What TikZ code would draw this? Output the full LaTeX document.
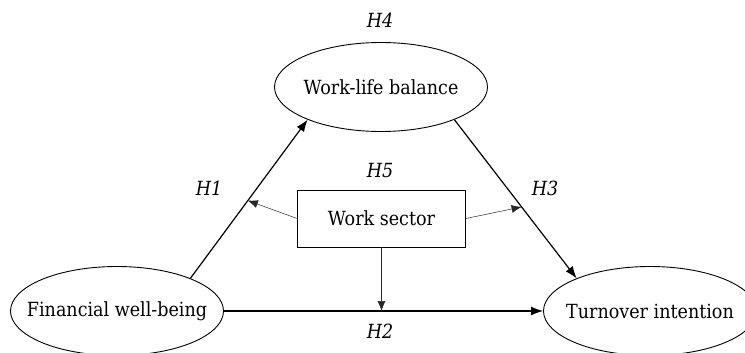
\documentclass[tikz,border=0pt]{standalone}
\usepackage{fontspec}
\setmainfont{DejaVu Serif Condensed}
\usetikzlibrary{shapes.geometric,arrows.meta}
\begin{document}
\begin{tikzpicture}[x=1pt,y=-1pt,
  lbl/.style={font=\fontsize{19.5}{23}\selectfont},
  ell/.style={ellipse,draw,line width=0.9pt,inner sep=0pt,minimum width=213pt,minimum height=89pt,lbl},
  box/.style={rectangle,draw,line width=0.9pt,minimum width=168pt,minimum height=57pt,inner sep=0pt,lbl},
  hyp/.style={font=\fontsize{19.5}{23}\selectfont\itshape},
  main/.style={line width=1.2pt,-{Latex[length=12pt,width=9pt]}},
  mod/.style={line width=0.5pt,draw=black!85,-{Latex[length=10pt,width=8pt]}}]
\useasboundingbox (0,0) rectangle (745,353);
\node[ell] (fin) at (117,311) {\makebox[0pt]{Financial well-being}};
\node[ell] (wlb) at (381,87) {\makebox[0pt]{Work-life balance}};
\node[ell] (tur) at (650,311) {\makebox[0pt]{Turnover intention}};
\node[box] (ws) at (381.5,218.5) {Work sector};
\node[hyp] (h4) at (380,20) {H4};
\node[hyp] (h5) at (380,171) {H5};
\node[hyp] (h1) at (209,188) {H1};
\node[hyp] (h3) at (545,188) {H3};
\node[hyp] (h2) at (380,331) {H2};
\draw[main] (fin.24) -- coordinate[pos=0.49] (m1) (wlb.204);
\draw[main] (wlb.-24) -- coordinate[pos=0.55] (m3) (tur.156);
\draw[main] (fin.east) -- (tur.west);
\draw[mod] (ws.west) -- (m1);
\draw[mod] (ws.east) -- (m3);
\draw[mod] (ws.south) -- (ws.south |- fin.east);
\end{tikzpicture}
\end{document}
